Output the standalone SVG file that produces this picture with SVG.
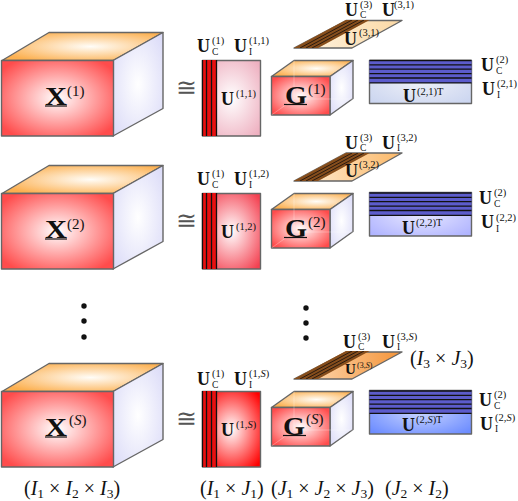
<svg xmlns="http://www.w3.org/2000/svg" width="518" height="501" viewBox="0 0 518 501">
<style>
text{font-family:"Liberation Serif","Times New Roman",serif;fill:#111}
.b{font-weight:bold;font-size:18px}
.B{font-weight:bold;font-size:25px}
.G{font-weight:bold;font-size:25px}
.s{font-size:10.5px}
.S{font-size:15px}
.c{font-size:9.5px}
.d{font-size:20px}
.i{font-style:italic}
.n{font-size:13.500px}
.a{font-size:25px;fill:#555}
.e{stroke:#666;stroke-width:1.4;stroke-linejoin:round}
.k{stroke:#111;stroke-width:1.3;fill:none}
.u{stroke:#111;stroke-width:1.2}
</style>
<defs>
<radialGradient id="gF" cx=".5" cy=".5" r=".62"><stop offset="0" stop-color="#fff"/><stop offset="1" stop-color="#ff4c4c"/></radialGradient>
<radialGradient id="gT" cx=".55" cy=".5" r=".6"><stop offset="0" stop-color="#fffdf8"/><stop offset="1" stop-color="#fcb050"/></radialGradient>
<radialGradient id="gR" cx=".5" cy=".5" r=".65"><stop offset="0" stop-color="#fff"/><stop offset="1" stop-color="#dcdcf8"/></radialGradient>
<radialGradient id="p1" cx=".5" cy=".5" r=".65"><stop offset="0" stop-color="#fff"/><stop offset="1" stop-color="#eeb0c0"/></radialGradient>
<radialGradient id="p2" cx=".5" cy=".5" r=".65"><stop offset="0" stop-color="#fff"/><stop offset="1" stop-color="#f44050"/></radialGradient>
<radialGradient id="p3" cx=".5" cy=".5" r=".65"><stop offset="0" stop-color="#fff"/><stop offset="1" stop-color="#ff0000"/></radialGradient>
<radialGradient id="b1" cx=".5" cy=".5" r=".65"><stop offset="0" stop-color="#eef0f8"/><stop offset="1" stop-color="#ccd6f0"/></radialGradient>
<radialGradient id="b2" cx=".5" cy=".5" r=".65"><stop offset="0" stop-color="#e8e8ff"/><stop offset="1" stop-color="#b0b4ff"/></radialGradient>
<radialGradient id="b3" cx=".5" cy=".5" r=".65"><stop offset="0" stop-color="#c8d4ff"/><stop offset="1" stop-color="#6c8cff"/></radialGradient>
<linearGradient id="o1" x1="0" x2="1"><stop offset="0" stop-color="#fff6e6"/><stop offset="1" stop-color="#fbd8a4"/></linearGradient>
<linearGradient id="o2" x1="0" x2="1"><stop offset="0" stop-color="#fff0dc"/><stop offset="1" stop-color="#fbb868"/></linearGradient>
<linearGradient id="o3" x1="0" x2="1"><stop offset="0" stop-color="#fde0c0"/><stop offset="1" stop-color="#f59438"/></linearGradient>
<clipPath id="dc"><path d="M294 28L346 0H369.500L318 28Z"/></clipPath>
<g id="big">
<path class="e" d="M2 60.500L49 32.500H163L113 60.500Z" fill="url(#gT)"/>
<path class="e" d="M113 60.500L163 32.500V108.500L113 136Z" fill="url(#gR)"/>
<rect class="e" x="1.500" y="60.500" width="112" height="75.500" fill="url(#gF)"/>
</g>
<g id="small">
<path class="e" d="M271.500 76.500L294 60.500H353L330 76.500Z" fill="url(#gT)"/>
<path class="e" d="M330 76.500L353 60.500V98.500L330 115Z" fill="url(#gR)"/>
<path class="e" d="M271.500 76.500H330V115H271.500Z" fill="url(#gF)"/>
<path d="M294 60.500V99H353M294 99L271.500 115" fill="none" stroke="#fff" stroke-opacity=".35" stroke-width=".8"/>
</g>
<g id="vs">
<rect x="202.500" y="0" width="14" height="76" fill="#e81010"/>
<path class="k" d="M202.500 0V76M206.500 0V76M211.500 0V76M216.500 0V76"/>
</g>
<g id="hs">
<rect x="369.500" y="0" width="102" height="23" fill="#5c5ccc"/>
<path class="k" d="M369.500 .5H471.500M369.500 4.800H471.500M369.500 9.200H471.500M369.500 13.600H471.500M369.500 18H471.500M369.500 22.800H471.500"/>
</g>
<g id="ds">
<g clip-path="url(#dc)">
<rect x="290" y="0" width="84" height="28" fill="#e08028"/>
<path stroke="#2a1a10" stroke-width="1" fill="none" d="M290 27H374M290 25H374M290 23H374M290 21H374M290 19H374M290 17H374M290 15H374M290 13H374M290 11H374M290 9H374M290 7H374M290 5H374M290 3H374M290 1H374"/>
<path stroke="#2a1a10" stroke-width="1" fill="none" d="M300 28L352 0M306 28L358 0M312 28L364 0"/>
</g>
</g>
</defs>

<g id="connectors"></g>

<g id="tensor-x1"><use href="#big"/><text class="B" x="45" y="105" textLength="22" lengthAdjust="spacingAndGlyphs">X</text><line class="u" x1="45" x2="67" y1="106" y2="106"/><text class="S" x="67" y="96">(1)</text></g>
<g id="tensor-x2"><use href="#big" y="133"/><text class="B" x="45" y="238" textLength="22" lengthAdjust="spacingAndGlyphs">X</text><line class="u" x1="45" x2="67" y1="239" y2="239"/><text class="S" x="67" y="229">(2)</text></g>
<g id="tensor-xs"><use href="#big" y="331"/><text class="B" x="45" y="436" textLength="22" lengthAdjust="spacingAndGlyphs">X</text><line class="u" x1="45" x2="67" y1="437" y2="437"/><text class="S" x="69" y="425">(<tspan class="i">S</tspan>)</text></g>

<g id="approx"><text class="a" x="176" y="96">≅</text><text class="a" x="176" y="229">≅</text><text class="a" x="176" y="427">≅</text></g>

<g id="u1-row1">
<rect class="e" x="202.500" y="60.500" width="58" height="75.500" fill="url(#p1)"/><use href="#vs" y="60"/>
<text class="b" x="197" y="52">U</text><text class="s" x="212" y="44">(1)</text><text class="c" x="212" y="55">C</text>
<text class="b" x="234" y="52">U</text><text class="s" x="249" y="44">(1,1)</text><text class="c" x="249" y="55">I</text>
<text class="b" x="221" y="105">U</text><text class="s" x="236" y="97">(1,1)</text>
</g>
<g id="u1-row2">
<rect class="e" x="202.500" y="193.500" width="58" height="75.500" fill="url(#p2)"/><use href="#vs" y="193"/>
<text class="b" x="197" y="185">U</text><text class="s" x="212" y="177">(1)</text><text class="c" x="212" y="188">C</text>
<text class="b" x="234" y="185">U</text><text class="s" x="249" y="177">(1,2)</text><text class="c" x="249" y="188">I</text>
<text class="b" x="221" y="238">U</text><text class="s" x="236" y="230">(1,2)</text>
</g>
<g id="u1-rows">
<rect class="e" x="202.500" y="391.500" width="58" height="75.500" fill="url(#p3)"/><use href="#vs" y="391"/>
<text class="b" x="197" y="385">U</text><text class="s" x="212" y="377">(1)</text><text class="c" x="212" y="388">C</text>
<text class="b" x="234" y="385">U</text><text class="s" x="249" y="377">(1,<tspan class="i">S</tspan>)</text><text class="c" x="249" y="388">I</text>
<text class="b" x="221" y="436">U</text><text class="s" x="236" y="428">(1,<tspan class="i">S</tspan>)</text>
</g>

<g id="g-row1"><use href="#small"/><text class="G" x="285" y="104" textLength="22" lengthAdjust="spacingAndGlyphs">G</text><line class="u" x1="284" x2="307" y1="104.500" y2="104.500"/><text class="S" x="308" y="94">(1)</text></g>
<g id="g-row2"><use href="#small" y="133"/><text class="G" x="285" y="237" textLength="22" lengthAdjust="spacingAndGlyphs">G</text><line class="u" x1="284" x2="307" y1="237.500" y2="237.500"/><text class="S" x="308" y="227">(2)</text></g>
<g id="g-rows"><use href="#small" y="331"/><text class="G" x="283" y="435" textLength="22" lengthAdjust="spacingAndGlyphs">G</text><line class="u" x1="283" x2="306" y1="435.500" y2="435.500"/><text class="S" x="306" y="424">(<tspan class="i">S</tspan>)</text></g>

<g id="u3-row1">
<path class="e" d="M294 48L346 20.500H402L352 48Z" fill="url(#o1)"/><use href="#ds" y="20"/>
<text class="b" x="345" y="16">U</text><text class="s" x="360" y="8">(3)</text><text class="c" x="360" y="18">C</text>
<text class="b" x="382" y="16">U</text><text class="s" x="394" y="8">(3,1)</text>
<text class="b" x="344" y="45">U</text><text class="s" x="359" y="36">(3,1)</text>
</g>
<g id="u3-row2">
<path class="e" d="M294 181L346 153H402L352 181Z" fill="url(#o2)"/><use href="#ds" y="153"/>
<text class="b" x="345" y="149">U</text><text class="s" x="360" y="141">(3)</text><text class="c" x="360" y="151">C</text>
<text class="b" x="382" y="149">U</text><text class="s" x="397" y="141">(3,2)</text><text class="c" x="397" y="151">I</text>
<text class="b" x="345" y="177">U</text><text class="s" x="359" y="168">(3,2)</text>
</g>
<g id="u3-rows">
<path class="e" d="M294 379L346 352H402L352 379Z" fill="url(#o3)"/><use href="#ds" y="351"/>
<text class="b" x="343" y="348">U</text><text class="s" x="358" y="340">(3)</text><text class="c" x="358" y="350">C</text>
<text class="b" x="382" y="348">U</text><text class="s" x="397" y="340">(3,<tspan class="i">S</tspan>)</text><text class="c" x="397" y="350">I</text>
<text x="345" y="374" font-weight="bold" font-size="15">U</text><text x="357" y="368" font-size="8">(3,<tspan class="i">S</tspan>)</text>
</g>

<g id="u2-row1">
<rect class="e" x="369.500" y="60.500" width="102" height="43" fill="url(#b1)"/><use href="#hs" y="60"/>
<text class="b" x="481" y="71">U</text><text class="s" x="496" y="63">(2)</text><text class="c" x="496" y="74">C</text>
<text class="b" x="482" y="95">U</text><text class="s" x="497" y="87">(2,1)</text><text class="c" x="497" y="98">I</text>
<text class="b" x="403" y="102">U</text><text class="s" x="417" y="95">(2,1)T</text>
</g>
<g id="u2-row2">
<rect class="e" x="369.500" y="192.500" width="102" height="43.500" fill="url(#b2)"/><use href="#hs" y="192.500"/>
<text class="b" x="479" y="204">U</text><text class="s" x="494" y="196">(2)</text><text class="c" x="494" y="207">C</text>
<text class="b" x="481" y="228">U</text><text class="s" x="496" y="221">(2,2)</text><text class="c" x="496" y="232">I</text>
<text class="b" x="402" y="234">U</text><text class="s" x="416" y="226">(2,2)T</text>
</g>
<g id="u2-rows">
<rect class="e" x="369.500" y="390.500" width="102" height="43.500" fill="url(#b3)"/><use href="#hs" y="390.500"/>
<text class="b" x="479" y="406">U</text><text class="s" x="494" y="398">(2)</text><text class="c" x="494" y="409">C</text>
<text class="b" x="480" y="430">U</text><text class="s" x="495" y="421">(2,<tspan class="i">S</tspan>)</text><text class="c" x="495" y="432">I</text>
<text class="b" x="402" y="431">U</text><text class="s" x="416" y="423">(2,<tspan class="i">S</tspan>)T</text>
</g>

<g id="dots" fill="#111"><circle cx="84" cy="306" r="2.700"/><circle cx="84" cy="321" r="2.700"/><circle cx="84" cy="337" r="2.700"/><circle cx="306" cy="308" r="2.700"/><circle cx="306" cy="323" r="2.700"/><circle cx="306" cy="338" r="2.700"/></g>

<g id="dims">
<text class="d" x="24" y="495">(<tspan class="i">I</tspan><tspan class="n" dy="3">1</tspan><tspan dy="-3"> × </tspan><tspan class="i">I</tspan><tspan class="n" dy="3">2</tspan><tspan dy="-3"> × </tspan><tspan class="i">I</tspan><tspan class="n" dy="3">3</tspan><tspan dy="-3">)</tspan></text>
<text class="d" x="200" y="495">(<tspan class="i">I</tspan><tspan class="n" dy="3">1</tspan><tspan dy="-3"> × </tspan><tspan class="i">J</tspan><tspan class="n" dy="3">1</tspan><tspan dy="-3">)</tspan></text>
<text class="d" x="271" y="495">(<tspan class="i">J</tspan><tspan class="n" dy="3">1</tspan><tspan dy="-3"> × </tspan><tspan class="i">J</tspan><tspan class="n" dy="3">2</tspan><tspan dy="-3"> × </tspan><tspan class="i">J</tspan><tspan class="n" dy="3">3</tspan><tspan dy="-3">)</tspan></text>
<text class="d" x="385" y="495">(<tspan class="i">J</tspan><tspan class="n" dy="3">2</tspan><tspan dy="-3"> × </tspan><tspan class="i">I</tspan><tspan class="n" dy="3">2</tspan><tspan dy="-3">)</tspan></text>
<text class="d" x="410" y="365">(<tspan class="i">I</tspan><tspan class="n" dy="3">3</tspan><tspan dy="-3"> × </tspan><tspan class="i">J</tspan><tspan class="n" dy="3">3</tspan><tspan dy="-3">)</tspan></text>
</g>
</svg>
